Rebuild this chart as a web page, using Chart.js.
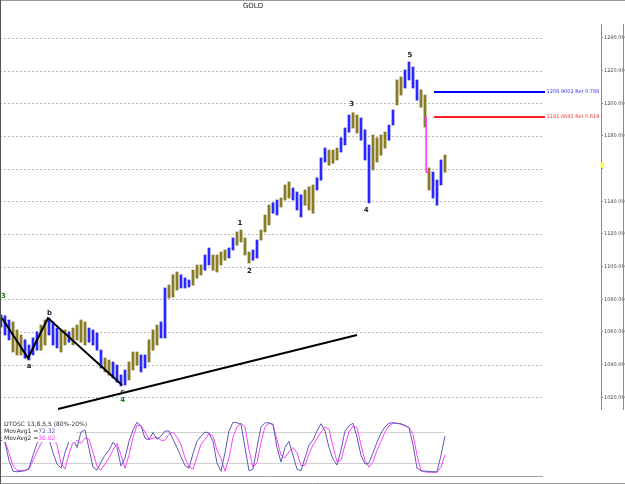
<!DOCTYPE html>
<html>
<head>
<meta charset="utf-8">
<script src="https://cdn.jsdelivr.net/npm/chart.js@4.4.1/dist/chart.umd.min.js"></script>
<style>
  html, body { margin: 0; padding: 0; background: #ffffff; }
  #wrap { position: relative; width: 625px; height: 484px; }
</style>
</head>
<body>
<div id="wrap"><canvas id="grafico" width="625" height="484"></canvas></div>
<script>
// ------------------------------
// Datos
// ------------------------------
const maximos = [
  1070.4,1069.8,1067.3,1066.1,1061.2,1058.1,1055.1,1052.0,1056.3,1060.0,
  1064.2,1067.3,1068.5,1066.1,1062.4,1061.2,1061.2,1060.0,1062.4,1064.2,
  1067.3,1066.1,1062.4,1061.2,1059.3,1048.9,1044.0,1042.8,1041.6,1039.7,
  1033.6,1036.7,1041.6,1047.7,1047.7,1045.9,1045.9,1055.1,1061.2,1064.2,
  1066.1,1086.9,1088.7,1094.9,1096.7,1094.9,1093.0,1091.8,1097.9,1101.0,
  1101.0,1107.1,1111.4,1107.1,1107.1,1108.9,1110.2,1111.4,1117.5,1121.2,
  1122.4,1117.5,1108.9,1110.2,1116.3,1122.4,1131.6,1137.7,1139.0,1140.8,
  1142.0,1150.0,1151.8,1148.1,1145.7,1143.9,1146.9,1148.8,1150.0,1154.3,
  1166.5,1172.6,1171.4,1171.4,1172.6,1178.8,1184.9,1192.8,1194.1,1192.8,
  1191.0,1183.7,1174.5,1180.6,1178.8,1180.6,1182.4,1186.7,1195.9,1214.3,
  1216.1,1220.4,1225.3,1222.2,1214.3,1208.2,1205.1,1160.4,1157.9,1153.0,
  1165.3,1168.3
];
const minimos = [
  1063.0,1058.1,1055.1,1047.7,1045.9,1045.9,1044.0,1042.8,1045.9,1048.9,
  1048.9,1052.0,1058.1,1052.0,1050.2,1047.7,1052.0,1053.8,1052.0,1055.1,
  1053.8,1052.0,1053.8,1052.0,1048.9,1037.9,1035.5,1033.6,1031.8,1029.3,
  1026.9,1027.5,1030.6,1036.7,1039.7,1035.5,1037.9,1041.6,1048.9,1052.0,
  1056.3,1056.3,1080.8,1081.4,1085.7,1086.9,1086.9,1087.5,1088.7,1093.0,
  1094.9,1097.9,1101.0,1097.9,1096.7,1101.0,1104.0,1105.3,1110.2,1113.2,
  1115.1,1107.1,1102.2,1104.0,1105.3,1116.3,1121.2,1125.5,1132.8,1131.6,
  1136.5,1140.8,1142.0,1140.8,1134.7,1130.4,1137.7,1134.7,1132.8,1146.9,
  1153.0,1164.1,1162.2,1163.4,1165.3,1170.2,1174.5,1182.4,1184.9,1181.8,
  1177.5,1165.3,1139.0,1159.2,1164.1,1168.3,1172.6,1177.5,1186.7,1199.0,
  1205.1,1209.4,1214.3,1209.4,1202.0,1197.7,1185.5,1146.9,1142.0,1137.7,
  1150.0,1157.9
];
// 1 = barra azul, 0 = barra oliva
const tendencia = [
  1,1,1,0,0,0,1,1,1,1, 0,0,1,1,1,0,0,1,0,0,
  0,0,1,1,1,1,0,0,1,1, 1,1,0,0,0,1,1,0,0,0,
  1,1,0,0,0,1,1,1,0,0, 0,1,1,0,0,0,0,1,1,0,
  0,0,0,1,1,0,0,0,1,1, 0,0,0,1,1,1,0,0,0,1,
  1,1,0,0,0,1,1,1,0,0, 1,1,1,0,0,0,0,1,1,0,
  0,1,1,1,1,0,0,0,1,1, 1,0
];
// DTOSC
const movAvg1 = [
  64,60,25,4,3,4,5,10,35,58, 72,76,66,40,18,10,40,62,68,50,
  80,84,48,12,6,22,35,45,60,50, 14,30,62,84,99,92,68,65,79,66,
  72,82,82,66,50,32,15,10,38,62, 72,80,78,62,20,4,40,82,99,98,
  95,50,5,8,50,90,98,98,95,50, 22,50,62,35,8,5,30,55,65,82,
  96,82,50,28,16,45,82,92,97,70, 35,18,20,40,60,78,90,97,98,97,
  96,93,88,55,10,5,4,4,3,3, 35,72.32
];
const movAvg2 = [
  70,62,40,14,6,5,6,8,25,42, 58,68,72,70,55,20,8,38,60,64,
  58,68,66,40,14,6,18,30,45,58, 35,10,35,70,93,92,80,66,68,70,
  64,64,76,80,70,55,30,12,8,32, 56,66,77,72,45,28,4,30,70,90,
  97,90,45,12,20,60,90,97,94,65, 35,30,42,50,40,15,15,38,55,68,
  80,90,85,52,22,25,55,80,92,88, 55,25,12,22,45,62,80,92,97,97,
  95,92,89,75,35,5,3,2,2,2, 12,36.02
];
const ticksPrecio = [1020,1040,1060,1080,1100,1120,1140,1160,1180,1200,1220,1240];
const nivelesRet = [1206.9002, 1191.6691];
const ratiosRet = [0.786, 0.618];
const ultimoPrecio = 1162.5;
// zigzag a-b-c y linea de tendencia (indice de barra, precio)
const zigzagX = [0.25, 6.75, 11.75, 30.25];
const zigzagY = [1068.5, 1044.0, 1068.5, 1027.5];
const tendX = [14.25, 89];
const tendY = [1012.8, 1058.1];
// etiquetas de ondas
const ondas = [
  { t: "3", i: 0.6, p: 1082.0, verde: true },
  { t: "a", i: 7.0, p: 1039.2 },
  { t: "b", i: 12.1, p: 1071.4 },
  { t: "c", i: 30.4, p: 1023.2 },
  { t: "4", i: 30.4, p: 1018.4, verde: true },
  { t: "1", i: 59.75, p: 1126.9 },
  { t: "2", i: 62.1, p: 1097.5 },
  { t: "3", i: 87.7, p: 1199.6 },
  { t: "4", i: 91.3, p: 1134.3 },
  { t: "5", i: 102.25, p: 1229.6 }
];

const AZUL = "#1010ff", AZUL_CLARO = "rgba(120,120,255,0.7)";
const OLIVA = "#7a7010", OLIVA_CLARO = "rgba(176,166,104,0.75)";

const barras = maximos.map((h, i) => ({ x: i, y: [minimos[i], h] }));

// ------------------------------
// Dibujos extra (rejilla, textos, marcos)
// ------------------------------
const extras = {
  id: "extras",
  beforeDatasetsDraw(chart) {
    const { ctx, scales: { x, y, y2 } } = chart;
    ctx.save();
    ctx.lineWidth = 1;
    // rejilla punteada
    ctx.strokeStyle = "#b8b8b8";
    ctx.setLineDash([2, 2]);
    ticksPrecio.forEach(v => {
      const py = Math.round(y.getPixelForValue(v)) + 0.5;
      ctx.beginPath();
      ctx.moveTo(x.getPixelForValue(-0.25), py);
      ctx.lineTo(x.getPixelForValue(135.5), py);
      ctx.stroke();
    });
    ctx.setLineDash([]);
    // lineas 80% / 20%
    ctx.strokeStyle = "#cfcfcf";
    [80, 20].forEach(v => {
      const py = Math.round(y2.getPixelForValue(v)) + 0.5;
      ctx.beginPath();
      ctx.moveTo(x.getPixelForValue(-0.25), py);
      ctx.lineTo(x.getPixelForValue(110.8), py);
      ctx.stroke();
    });
    ctx.strokeStyle = "#a0a0a0";
    const pb = Math.round(y2.getPixelForValue(-5)) + 0.5;
    ctx.beginPath();
    ctx.moveTo(x.getPixelForValue(-0.25), pb);
    ctx.lineTo(x.getPixelForValue(135.5), pb);
    ctx.stroke();
    ctx.restore();
  },
  afterDatasetsDraw(chart) {
    const { ctx, scales: { x, y, y2 } } = chart;
    ctx.save();
    // marcos
    ctx.strokeStyle = "#999";
    ctx.lineWidth = 1;
    ctx.beginPath();
    ctx.moveTo(0, 0.5); ctx.lineTo(625, 0.5);
    ctx.moveTo(0, 483.5); ctx.lineTo(625, 483.5);
    ctx.stroke();
    ctx.strokeStyle = "#555";
    ctx.beginPath();
    ctx.moveTo(0.5, 0); ctx.lineTo(0.5, 484);
    ctx.stroke();
    // eje de precios
    const ax = Math.round(y.left) + 0.5;
    ctx.strokeStyle = "#8a8a8a";
    ctx.beginPath();
    ctx.moveTo(ax, y.getPixelForValue(1248.6));
    ctx.lineTo(ax, y.getPixelForValue(1012.2));
    ctx.moveTo(623.5, y.getPixelForValue(1248.6));
    ctx.lineTo(623.5, y.getPixelForValue(1012.2));
    ctx.stroke();
    // marca precio actual
    ctx.fillStyle = "#ffff40";
    ctx.fillRect(ax - 1, y.getPixelForValue(ultimoPrecio) - 2, 3, 5);

    // titulo
    ctx.fillStyle = "#222";
    ctx.font = "7px 'DejaVu Sans'";
    ctx.textAlign = "center";
    ctx.textBaseline = "middle";
    ctx.fillText("GOLD", 253, 6);

    // etiquetas de ondas
    ctx.font = "bold 7px 'DejaVu Sans'";
    ondas.forEach(o => {
      ctx.fillStyle = o.verde ? "#108010" : "#222";
      ctx.fillText(o.t, x.getPixelForValue(o.i), y.getPixelForValue(o.p));
    });

    // textos de retroceso
    ctx.font = "5px 'DejaVu Sans'";
    ctx.textAlign = "left";
    nivelesRet.forEach((v, k) => {
      ctx.fillStyle = k === 0 ? "#3030ff" : "#ff3030";
      ctx.fillText(v.toFixed(4) + " Ret " + ratiosRet[k].toFixed(3),
        x.getPixelForValue(136.4), y.getPixelForValue(v));
    });

    // leyenda del oscilador
    ctx.fillStyle = "#ffffff";
    ctx.fillRect(2, 419, 74, 23);
    ctx.font = "6px 'DejaVu Sans'";
    ctx.fillStyle = "#333";
    ctx.fillText("DTOSC 13,8,5,5 (80%-20%)", 4, 424);
    ctx.fillText("MovAvg1 =", 4, 431);
    ctx.fillText("MovAvg2 =", 4, 438);
    const w = ctx.measureText("MovAvg1 =").width;
    ctx.fillStyle = "#5050c0";
    ctx.fillText(movAvg1[movAvg1.length - 1].toFixed(2), 4 + w, 431);
    ctx.fillStyle = "#ff40ff";
    ctx.fillText(movAvg2[movAvg2.length - 1].toFixed(2), 4 + w, 438);
    ctx.restore();
  }
};

// ------------------------------
// Grafico
// ------------------------------
new Chart(document.getElementById("grafico"), {
  type: "bar",
  data: {
    datasets: [
      {
        data: barras,
        backgroundColor: tendencia.map(t => t ? AZUL_CLARO : OLIVA_CLARO),
        barThickness: 3,
        grouped: false,
        order: 5
      },
      {
        data: barras,
        backgroundColor: tendencia.map(t => t ? AZUL : OLIVA),
        barThickness: 1,
        grouped: false,
        order: 4
      },
      {
        type: "line",
        data: zigzagX.map((v, i) => ({ x: v, y: zigzagY[i] })),
        borderColor: "#000",
        borderWidth: 2,
        pointRadius: 0,
        order: 1
      },
      {
        type: "line",
        data: tendX.map((v, i) => ({ x: v, y: tendY[i] })),
        borderColor: "#000",
        borderWidth: 2,
        pointRadius: 0,
        order: 1
      },
      {
        type: "line",
        data: [
          { x: 105.9, y: nivelesRet[1] }, { x: 106.3, y: nivelesRet[1] },
          { x: 106.3, y: 1157.6 }, { x: 107.0, y: 1157.6 }
        ],
        borderColor: "#ff40ff",
        borderWidth: 1,
        pointRadius: 0,
        order: 2
      },
      {
        type: "line",
        data: [{ x: 108.25, y: nivelesRet[0] }, { x: 136, y: nivelesRet[0] }],
        borderColor: "#0000ff",
        borderWidth: 2,
        pointRadius: 0,
        order: 2
      },
      {
        type: "line",
        data: [{ x: 108.25, y: nivelesRet[1] }, { x: 136, y: nivelesRet[1] }],
        borderColor: "#ff2020",
        borderWidth: 2,
        pointRadius: 0,
        order: 2
      },
      {
        type: "line",
        yAxisID: "y2",
        data: movAvg2.map((v, i) => ({ x: i, y: v })),
        borderColor: "#ff40ff",
        borderWidth: 1,
        pointRadius: 0,
        order: 3
      },
      {
        type: "line",
        yAxisID: "y2",
        data: movAvg1.map((v, i) => ({ x: i, y: v })),
        borderColor: "#5a5ab4",
        borderWidth: 1,
        pointRadius: 0,
        order: 2
      }
    ]
  },
  options: {
    responsive: false,
    animation: false,
    events: [],
    layout: { padding: 0 },
    plugins: { legend: { display: false }, tooltip: { enabled: false }, title: { display: false } },
    scales: {
      x: { type: "linear", min: -0.25, max: 150, offset: false, display: false },
      y: {
        position: "right",
        min: 966.88,
        max: 1263.27,
        border: { display: false },
        grid: { drawOnChartArea: false, drawTicks: true, tickLength: 2, color: "#888" },
        ticks: {
          padding: 1,
          color: "#444",
          font: { size: 5, family: "'DejaVu Sans'" },
          callback: v => v === 1160 ? "" : v.toFixed(4)
        },
        afterBuildTicks: scale => { scale.ticks = ticksPrecio.map(v => ({ value: v })); },
        afterFit: scale => { scale.width = 24; scale.paddingTop = 0; scale.paddingBottom = 0; }
      },
      y2: { min: -20.7, max: 917.2, display: false }
    }
  },
  plugins: [extras]
});
</script>
</body>
</html>
